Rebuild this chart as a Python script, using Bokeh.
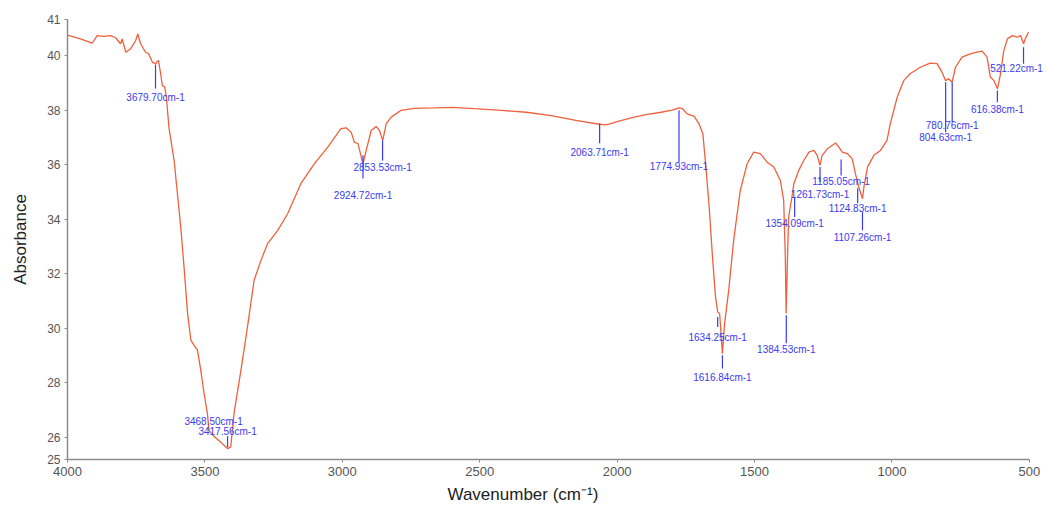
from bokeh.plotting import figure
from bokeh.models import ColumnDataSource, Range1d, FixedTicker, Title
from bokeh.core.properties import value
from bokeh.embed import file_html
from bokeh.resources import INLINE

# ---- spectrum (wavenumber cm-1, absorbance) ----
wavenumber = [
    4000, 3953, 3910, 3892, 3869, 3843, 3825, 3807, 3801, 3788, 3770, 3752, 3744, 3734,
    3716, 3705, 3691, 3680, 3669, 3661, 3655, 3646, 3639, 3631, 3612, 3600, 3588, 3576,
    3563, 3551, 3527, 3515, 3503, 3491, 3485, 3468, 3440, 3430, 3418, 3406, 3394, 3369,
    3345, 3321, 3296, 3272, 3235, 3199, 3151, 3102, 3053, 3005, 2986, 2968, 2956, 2943,
    2925, 2913, 2895, 2877, 2865, 2853, 2840, 2822, 2786, 2740, 2665, 2600, 2520, 2421,
    2330, 2240, 2150, 2065, 2040, 1990, 1938, 1890, 1840, 1800, 1775, 1762, 1745, 1720,
    1702, 1688, 1677, 1665, 1653, 1642, 1634, 1627, 1617, 1609, 1594, 1576, 1552, 1527,
    1503, 1479, 1454, 1430, 1406, 1394, 1388, 1385, 1380, 1376, 1364, 1357, 1339, 1321,
    1302, 1284, 1272, 1262, 1254, 1235, 1205, 1193, 1181, 1162, 1145, 1133, 1121, 1107,
    1102, 1089, 1066, 1042, 1018, 1006, 981, 957, 934, 897, 861, 836, 818, 805, 794, 781,
    769, 745, 715, 690, 672, 654, 642, 629, 616, 605, 593, 580, 562, 544, 532, 521, 515, 503,
]
absorbance = [
    40.75, 40.61, 40.45, 40.73, 40.70, 40.73, 40.65, 40.43, 40.61, 40.12, 40.25, 40.55, 40.79, 40.43,
    40.12, 40.07, 39.75, 39.70, 39.82, 39.33, 38.90, 38.84, 38.35, 37.37, 36.15, 34.93, 33.72, 32.25,
    30.54, 29.56, 29.19, 28.46, 27.61, 26.88, 26.26, 26.05, 25.80, 25.71, 25.59, 25.65, 26.88, 28.46,
    30.05, 31.76, 32.49, 33.10, 33.59, 34.20, 35.30, 36.03, 36.64, 37.32, 37.35, 37.19, 36.82, 36.77,
    36.03, 36.52, 37.25, 37.40, 37.25, 36.89, 37.50, 37.74, 37.99, 38.06, 38.08, 38.10, 38.05, 37.99,
    37.92, 37.80, 37.62, 37.48, 37.46, 37.60, 37.74, 37.84, 37.92, 38.00, 38.08, 38.05, 37.86, 37.77,
    37.50, 37.13, 35.91, 34.44, 32.61, 31.15, 30.60, 30.54, 29.07, 30.17, 31.39, 33.22, 35.05, 36.03,
    36.46, 36.40, 36.09, 35.91, 35.42, 34.69, 32.61, 30.54, 32.61, 34.08, 34.81, 35.30, 35.79, 36.15,
    36.46, 36.52, 36.34, 35.97, 36.34, 36.58, 36.79, 36.64, 36.46, 36.40, 36.22, 35.67, 35.18, 34.75,
    35.18, 35.91, 36.34, 36.52, 36.89, 37.50, 38.47, 39.08, 39.33, 39.57, 39.72, 39.70, 39.39, 39.08, 39.15, 39.02,
    39.57, 39.94, 40.06, 40.12, 40.16, 39.94, 39.21, 39.08, 38.78, 39.33, 40.18, 40.61, 40.73, 40.67, 40.73, 40.43, 40.61, 40.85,
]

# ---- peak annotations ----
peak_wn = [3679.70, 2924.72, 2853.53, 3468.50, 3417.56, 2063.71, 1774.93, 1634.25, 1616.84,
           1384.53, 1354.09, 1261.73, 1185.05, 1124.83, 1107.26, 804.63, 780.76, 616.38, 521.22]
peak_text = ["%.2fcm-1" % w for w in peak_wn]
peak_line_top = [39.67, 36.34, 36.89, None, 26.04, 37.51, 37.99, 30.41, 29.01,
                 30.48, 34.81, 35.91, 36.19, 35.13, 34.26, 39.02, 39.02, 38.72, 40.30]
peak_line_bottom = [38.79, 35.49, 36.15, None, 25.64, 36.78, 36.08, 30.05, 28.53,
                    29.45, 34.08, 35.36, 35.60, 34.58, 33.59, 37.19, 37.56, 38.29, 39.70]
peak_label_y = [38.46, 34.87, 35.91, 26.60, 26.20, 36.46, 35.93, 29.68, 28.18,
                29.22, 33.84, 34.89, 35.38, 34.40, 33.34, 37.00, 37.44, 38.01, 39.53]

# ---- axes ----
x_ticks = [4000, 3500, 3000, 2500, 2000, 1500, 1000, 500]
y_lo, y_hi = 25.19, 41.32
y_ticks = [y_lo, 26, 28, 30, 32, 34, 36, 38, 40, y_hi]
y_tick_labels = {y_lo: "25", y_hi: "41"}

FONT = "Liberation Sans"
CURVE = "#f0603c"
BLUE = "#3a3af0"

p = figure(width=1047, height=510, output_backend="svg", toolbar_location=None,
           x_range=Range1d(4000, 434), y_range=Range1d(y_lo, y_hi),
           min_border_left=67, min_border_right=0, min_border_top=19, min_border_bottom=51)
p.outline_line_color = None
p.grid.visible = False
p.background_fill_color = "white"
p.border_fill_color = "white"

p.line(wavenumber, absorbance, line_color=CURVE, line_width=1.3)

seg = ColumnDataSource(dict(
    x=[w for w, t in zip(peak_wn, peak_line_top) if t is not None],
    y0=[t for t in peak_line_top if t is not None],
    y1=[b for b in peak_line_bottom if b is not None],
))
p.segment(x0="x", y0="y0", x1="x", y1="y1", source=seg, line_color=BLUE, line_width=1.2)

shift = [0] * (len(peak_wn) - 1) + [-7]
lab = ColumnDataSource(dict(x=peak_wn, y=peak_label_y, t=peak_text, dx=shift))
p.text(x="x", y="y", text="t", source=lab, x_offset="dx", text_align="center",
       text_baseline="middle", text_font=value(FONT), text_font_size="10px",
       text_color=BLUE)

for ax in (p.xaxis[0], p.yaxis[0]):
    ax.axis_line_color = "#8c8c8c"
    ax.axis_line_width = 1.5
    ax.major_tick_line_color = "#8c8c8c"
    ax.major_tick_in = 0
    ax.major_tick_out = 3
    ax.minor_tick_line_color = None
    ax.major_label_text_color = "#555555"
    ax.major_label_text_font = FONT
    ax.major_label_standoff = 4

p.xaxis[0].bounds = (498, 4000)
p.xaxis[0].ticker = FixedTicker(ticks=x_ticks)
p.xaxis[0].major_label_text_font_size = "13px"
p.yaxis[0].ticker = FixedTicker(ticks=y_ticks)
p.yaxis[0].major_label_overrides = y_tick_labels
p.yaxis[0].major_label_text_font_size = "12px"

p.yaxis[0].axis_label = "Absorbance"
p.yaxis[0].axis_label_text_font = FONT
p.yaxis[0].axis_label_text_font_size = "17px"
p.yaxis[0].axis_label_text_font_style = "normal"
p.yaxis[0].axis_label_text_color = "#222222"
p.yaxis[0].axis_label_standoff = 14

p.add_layout(Title(text="Wavenumber (cm\u207b\u00b9)", align="left", offset=380, standoff=8,
                   text_font=FONT, text_font_size="17px", text_font_style="normal",
                   text_color="#222222"), "below")

open("out.html", "w").write(file_html(p, INLINE))
